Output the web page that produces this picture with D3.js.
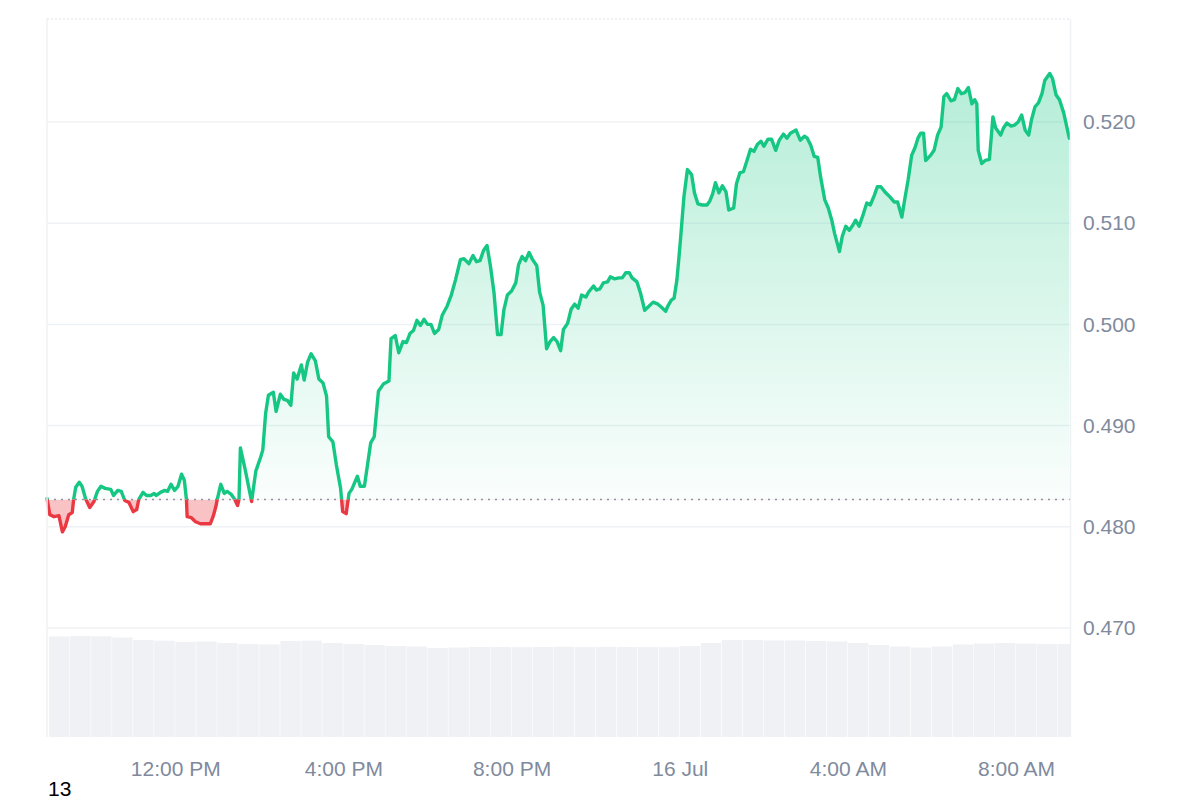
<!DOCTYPE html>
<html>
<head>
<meta charset="utf-8">
<script src="https://cdn.jsdelivr.net/npm/d3@7"></script>
<style>
  body { margin: 0; background: #fff; }
  svg text { font-family: "Liberation Sans", Arial, sans-serif; }
</style>
</head>
<body>
<svg id="chart" width="1200" height="800"></svg>
<script>
// price samples: minutes after 15 Jul 00:00, and price in USD
var times = [537,541,547,554,559,563,568,573,575,578,583,587,592,598,604,609,614,620,628,632,
  638,643,648,654,660,665,668,674,679,685,690,693,699,705,709,714,719,724,729,733,
  736,737,743,749,756,763,770,774,778,780,785,790,794,800,805,809,811,813,820,829,
  835,842,845,849,853,860,864,870,875,880,885,889,894,900,904,909,914,920,925,931,
  936,939,945,950,956,959,964,968,972,980,984,990,999,1004,1010,1017,1025,1028,1034,1039,
  1045,1050,1055,1060,1065,1070,1075,1080,1085,1090,1096,1101,1108,1114,1120,1127,1132,1139,1145,1150,
  1155,1160,1165,1170,1175,1180,1185,1189,1194,1200,1206,1210,1215,1220,1225,1230,1236,1240,1245,1250,
  1255,1260,1265,1270,1274,1280,1285,1290,1295,1300,1306,1310,1317,1321,1326,1331,1337,1341,1347,1353,
  1358,1363,1368,1372,1379,1384,1390,1396,1402,1409,1414,1420,1423,1428,1432,1436,1439,1441,1446,1451,
  1457,1461,1466,1472,1479,1483,1487,1491,1496,1501,1506,1510,1517,1521,1526,1531,1536,1541,1546,1551,
  1556,1560,1566,1571,1577,1582,1588,1593,1598,1606,1612,1618,1622,1627,1632,1637,1641,1647,1652,1657,
  1661,1668,1672,1677,1682,1687,1691,1696,1702,1707,1712,1718,1722,1727,1734,1740,1746,1751,1757,1761,
  1766,1771,1776,1780,1784,1788,1791,1798,1803,1808,1813,1817,1821,1827,1832,1837,1842,1847,1852,1857,
  1861,1864,1866,1871,1876,1882,1887,1891,1898,1902,1907,1913,1918,1923,1928,1933,1938,1942,1947,1952,
  1957,1961,1968,1972,1977,1982,1988,1996];

var prices = [0.4828,0.4812,0.4810,0.4811,0.4795,0.4800,0.4812,0.4814,0.4827,0.4839,
  0.4844,0.4840,0.4828,0.4819,0.4825,0.4835,0.4840,0.4838,0.4837,0.4831,
  0.4836,0.4835,0.4826,0.4824,0.4815,0.4817,0.4827,0.4834,0.4831,0.4831,
  0.4833,0.4831,0.4834,0.4836,0.4835,0.4842,0.4836,0.4840,0.4852,0.4846,
  0.4827,0.4810,0.4809,0.4805,0.4803,0.4803,0.4803,0.4810,0.4820,0.4827,
  0.4842,0.4833,0.4835,0.4832,0.4827,0.4821,0.4827,0.4878,0.4856,0.4825,
  0.4855,0.4869,0.4876,0.4912,0.4930,0.4933,0.4914,0.4931,0.4926,0.4925,
  0.4920,0.4952,0.4946,0.4960,0.4945,0.4963,0.4971,0.4964,0.4946,0.4942,
  0.4929,0.4889,0.4884,0.4861,0.4838,0.4815,0.4813,0.4833,0.4837,0.4850,
  0.4840,0.4840,0.4883,0.4889,0.4934,0.4941,0.4944,0.4986,0.4989,0.4972,
  0.4983,0.4982,0.4991,0.4994,0.5004,0.4999,0.5005,0.5000,0.5000,0.4991,
  0.4995,0.5009,0.5018,0.5029,0.5044,0.5064,0.5065,0.5060,0.5068,0.5062,
  0.5063,0.5073,0.5078,0.5057,0.5031,0.4990,0.4990,0.5014,0.5029,0.5033,
  0.5041,0.5059,0.5067,0.5063,0.5071,0.5064,0.5058,0.5032,0.5019,0.4976,
  0.4983,0.4987,0.4983,0.4974,0.4995,0.5001,0.5015,0.5020,0.5016,0.5029,
  0.5027,0.5032,0.5038,0.5034,0.5035,0.5041,0.5042,0.5047,0.5045,0.5046,
  0.5046,0.5051,0.5051,0.5046,0.5042,0.5031,0.5014,0.5018,0.5022,0.5020,
  0.5017,0.5013,0.5018,0.5024,0.5026,0.5044,0.5067,0.5083,0.5126,0.5153,
  0.5148,0.5130,0.5119,0.5118,0.5118,0.5122,0.5129,0.5140,0.5130,0.5137,
  0.5131,0.5113,0.5115,0.5139,0.5150,0.5151,0.5162,0.5173,0.5171,0.5178,
  0.5181,0.5176,0.5183,0.5183,0.5172,0.5182,0.5188,0.5184,0.5189,0.5192,
  0.5182,0.5186,0.5184,0.5177,0.5166,0.5165,0.5146,0.5123,0.5115,0.5103,
  0.5090,0.5072,0.5087,0.5097,0.5093,0.5098,0.5103,0.5097,0.5109,0.5120,
  0.5118,0.5128,0.5136,0.5136,0.5130,0.5126,0.5121,0.5121,0.5106,0.5123,
  0.5143,0.5167,0.5175,0.5184,0.5189,0.5189,0.5162,0.5167,0.5172,0.5187,
  0.5195,0.5225,0.5228,0.5221,0.5222,0.5233,0.5228,0.5229,0.5234,0.5218,
  0.5222,0.5218,0.5172,0.5159,0.5162,0.5163,0.5205,0.5194,0.5187,0.5194,
  0.5199,0.5196,0.5197,0.5200,0.5207,0.5192,0.5187,0.5202,0.5215,0.5219,
  0.5228,0.5241,0.5248,0.5243,0.5227,0.5222,0.5209,0.5184];

var openPrice = 0.4827;

// volume, 30 minute buckets (millions)
var volTimes = [540,570,600,630,660,690,720,750,780,810,840,870,900,930,960,990,1020,1050,1080,1110,
  1140,1170,1200,1230,1260,1290,1320,1350,1380,1410,1440,1470,1500,1530,1560,1590,1620,1650,1680,1710,
  1740,1770,1800,1830,1860,1890,1920,1950,1980];
var volumes = [1005,1010,1007,995,970,963,950,955,940,930,925,960,963,940,930,920,910,905,890,895,
  900,900,898,900,902,899,901,900,899,898,910,940,970,970,965,965,960,955,940,920,
  905,895,905,925,935,940,935,930,930];

var yTicks = [0.470, 0.480, 0.490, 0.500, 0.510, 0.520];
var xTickTimes = [720, 960, 1200, 1440, 1680, 1920];
var xTickLabels = ["12:00 PM", "4:00 PM", "8:00 PM", "16 Jul", "4:00 AM", "8:00 AM"];

var LEFT = 47, RIGHT = 1070, TOP = 19, BOTTOM = 737;
var GREEN = "#16c784", RED = "#ea3943", GREY = "#808a9d", GRID = "#eff2f5";

function toDate (m) { return new Date(2024, 6, 15, 0, m); }

var data = [];
for (var i = 0; i < Math.min(times.length, prices.length); i++) {
  data.push({ t: toDate(times[i]), v: prices[i] });
}

var svg = d3.select("#chart");

var x = d3.scaleTime()
  .domain([toDate(537), toDate(1997)])
  .range([LEFT, RIGHT]);
var y = d3.scaleLinear()
  .domain([0.470, 0.520])
  .range([628, 122]);
var vy = d3.scaleLinear()
  .domain([0, 1010])
  .range([BOTTOM, 636]);

var yBase = y(openPrice);

var defs = svg.append("defs");
defs.append("clipPath").attr("id", "plot")
  .append("rect").attr("x", LEFT).attr("y", TOP).attr("width", RIGHT - LEFT).attr("height", BOTTOM - TOP);
defs.append("clipPath").attr("id", "above")
  .append("rect").attr("x", LEFT - 5).attr("y", 0).attr("width", RIGHT - LEFT + 10).attr("height", yBase);
defs.append("clipPath").attr("id", "below")
  .append("rect").attr("x", LEFT - 5).attr("y", yBase).attr("width", RIGHT - LEFT + 10).attr("height", BOTTOM - yBase);

var gGreen = defs.append("linearGradient").attr("id", "gradGreen")
  .attr("gradientUnits", "userSpaceOnUse")
  .attr("x1", 0).attr("x2", 0).attr("y1", y(d3.max(prices))).attr("y2", yBase);
gGreen.append("stop").attr("offset", 0).attr("stop-color", GREEN).attr("stop-opacity", 0.32);
gGreen.append("stop").attr("offset", 1).attr("stop-color", GREEN).attr("stop-opacity", 0.02);

// grid lines
svg.append("g").selectAll("line")
  .data(yTicks).enter().append("line")
  .attr("x1", LEFT).attr("x2", RIGHT)
  .attr("y1", function(d) { return y(d); })
  .attr("y2", function(d) { return y(d); })
  .attr("stroke", GRID).attr("stroke-width", 1.5);

// volume bars
var vols = volTimes.map(function(t, i) { return { t: t, v: volumes[i] }; });
svg.append("g").attr("clip-path", "url(#plot)")
  .selectAll("rect").data(vols).enter().append("rect")
  .attr("x", function(d) { return x(toDate(d.t)); })
  .attr("width", function(d) { return x(toDate(d.t + 30)) - x(toDate(d.t)) - 0.6; })
  .attr("y", function(d) { return vy(d.v); })
  .attr("height", function(d) { return BOTTOM - vy(d.v); })
  .attr("fill", "#eff1f4");

// areas
var area = d3.area()
  .x(function(d) { return x(d.t); })
  .y0(yBase)
  .y1(function(d) { return y(d.v); });

svg.append("path").datum(data)
  .attr("clip-path", "url(#above)")
  .attr("d", area)
  .attr("fill", "url(#gradGreen)");
svg.append("path").datum(data)
  .attr("clip-path", "url(#below)")
  .attr("d", area)
  .attr("fill", RED).attr("fill-opacity", 0.3);

// opening price reference
svg.append("line")
  .attr("x1", LEFT).attr("x2", RIGHT)
  .attr("y1", yBase).attr("y2", yBase)
  .attr("stroke", "#8d94a3").attr("stroke-width", 1.6)
  .attr("stroke-dasharray", "2,5");

// price line, green above the open and red below
var line = d3.line()
  .x(function(d) { return x(d.t); })
  .y(function(d) { return y(d.v); });

svg.append("path").datum(data)
  .attr("clip-path", "url(#above)")
  .attr("d", line)
  .attr("fill", "none").attr("stroke", GREEN)
  .attr("stroke-width", 3.4).attr("stroke-linejoin", "round").attr("stroke-linecap", "round");
svg.append("path").datum(data)
  .attr("clip-path", "url(#below)")
  .attr("d", line)
  .attr("fill", "none").attr("stroke", RED)
  .attr("stroke-width", 3.4).attr("stroke-linejoin", "round").attr("stroke-linecap", "round");

// frame
svg.append("line").attr("x1", LEFT).attr("x2", LEFT).attr("y1", TOP).attr("y2", BOTTOM)
  .attr("stroke", GRID).attr("stroke-width", 1.5);
svg.append("line").attr("x1", RIGHT + 0.5).attr("x2", RIGHT + 0.5).attr("y1", TOP).attr("y2", BOTTOM)
  .attr("stroke", GRID).attr("stroke-width", 1.5);
svg.append("line").attr("x1", LEFT).attr("x2", RIGHT).attr("y1", TOP).attr("y2", TOP)
  .attr("stroke", "#dde1e6").attr("stroke-width", 1).attr("stroke-dasharray", "2,2");

// axes
var yAxis = svg.append("g")
  .attr("transform", "translate(" + RIGHT + ",0)")
  .call(d3.axisRight(y).tickValues(yTicks).tickSize(0).tickPadding(13)
    .tickFormat(d3.format(".3f")));
yAxis.select(".domain").remove();
yAxis.selectAll("text").attr("fill", GREY).style("font-size", "21px");

var xAxis = svg.append("g")
  .attr("transform", "translate(0," + BOTTOM + ")")
  .call(d3.axisBottom(x).tickValues(xTickTimes.map(toDate)).tickSize(0).tickPadding(24)
    .tickFormat(function(d, i) { return xTickLabels[i]; }));
xAxis.select(".domain").remove();
xAxis.selectAll("text").attr("fill", GREY).style("font-size", "21px");

svg.append("text")
  .attr("x", 48).attr("y", 796)
  .attr("fill", "#000")
  .style("font-size", "21px")
  .text("13");
</script>
</body>
</html>
